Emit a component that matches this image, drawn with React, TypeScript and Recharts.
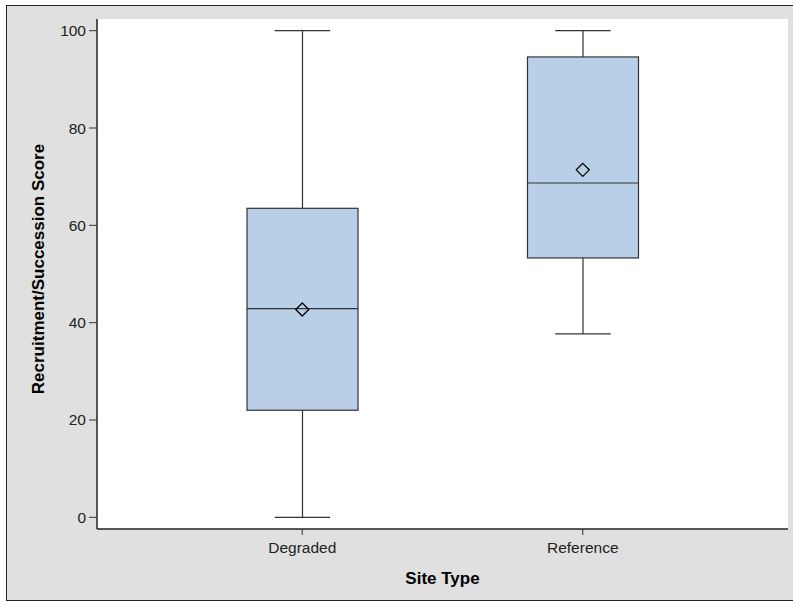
import React from "react";
import {
  ComposedChart,
  Bar,
  Scatter,
  XAxis,
  YAxis,
  CartesianGrid,
  Label,
} from "recharts";

const sites = ["Degraded", "Reference"];
const minVals = [0, 37.7];
const q1Vals = [22.0, 53.3];
const medians = [42.9, 68.7];
const q3Vals = [63.5, 94.6];
const maxVals = [100, 100];
const means = [42.7, 71.4];
const yTicks = [0, 20, 40, 60, 80, 100];

const data = sites.map((site, i) => ({
  site,
  base: minVals[i],
  lower: q1Vals[i] - minVals[i],
  box: q3Vals[i] - q1Vals[i],
  upper: maxVals[i] - q3Vals[i],
  median: medians[i],
  mean: means[i],
}));

const LINE = "#333333";
const FILL = "#b9cfe8";
const BOX_W = 111;

const LowerWhisker = (props: any) => {
  const { x, y, width, height } = props;
  const cx = x + width / 2;
  return (
    <g>
      <line x1={cx} x2={cx} y1={y} y2={y + height} stroke={LINE} strokeWidth={1.2} />
      <line x1={cx - width / 4} x2={cx + width / 4} y1={y + height} y2={y + height} stroke={LINE} strokeWidth={1.2} />
    </g>
  );
};

const UpperWhisker = (props: any) => {
  const { x, y, width, height } = props;
  const cx = x + width / 2;
  return (
    <g>
      <line x1={cx} x2={cx} y1={y} y2={y + height} stroke={LINE} strokeWidth={1.2} />
      <line x1={cx - width / 4} x2={cx + width / 4} y1={y} y2={y} stroke={LINE} strokeWidth={1.2} />
    </g>
  );
};

const BoxShape = (props: any) => {
  const { x, y, width, height } = props;
  return <rect x={x} y={y} width={width} height={height} fill={FILL} stroke={LINE} strokeWidth={1.2} />;
};

const MedianShape = (props: any) => {
  const { cx, cy } = props;
  return <line x1={cx - BOX_W / 2} x2={cx + BOX_W / 2} y1={cy} y2={cy} stroke={LINE} strokeWidth={1.2} />;
};

const MeanShape = (props: any) => {
  const { cx, cy } = props;
  const r = 6.5;
  return (
    <path
      d={`M${cx},${cy - r} L${cx + r},${cy} L${cx},${cy + r} L${cx - r},${cy} Z`}
      fill="none"
      stroke="#000"
      strokeWidth={1.3}
    />
  );
};

const YLabel = (props: any) => {
  const { viewBox } = props;
  const cy = viewBox.y + viewBox.height / 2 - 5;
  return (
    <text
      x={44}
      y={cy}
      transform={`rotate(-90 44 ${cy})`}
      textAnchor="middle"
      fontSize={17}
      fontWeight="bold"
      fill="#000"
      fontFamily="Liberation Sans, Arial, sans-serif"
    >
      Recruitment/Succession Score
    </text>
  );
};

export default function App() {
  return (
    <div style={{ position: "absolute", left: 0, top: 0, width: 793, height: 605, overflow: "hidden" }}>
      <div
        style={{
          position: "absolute",
          left: 6,
          top: 5,
          width: 787,
          height: 596,
          background: "#e0e0e0",
          borderLeft: "1px solid #222",
          borderTop: "1px solid #222",
          borderBottom: "1px solid #222",
          boxSizing: "border-box",
        }}
      />
      <div style={{ position: "absolute", left: 0, top: 0 }}>
        <ComposedChart
          width={793}
          height={605}
          data={data}
          margin={{ top: 19, right: 5, bottom: 16, left: 0 }}
          style={{ fontFamily: "Liberation Sans, Arial, sans-serif" }}
        >
          <CartesianGrid fill="#ffffff" horizontal={false} vertical={false} />
          <XAxis
            dataKey="site"
            type="category"
            padding={{ left: 65, right: 65 }}
            height={60}
            tickSize={6}
            tickMargin={7}
            stroke={LINE}
            axisLine={{ stroke: "#222", strokeWidth: 1.5 }}
            tick={{ fill: "#222", fontSize: 15.5 }}
          >
            <Label
              value="Site Type"
              position="insideBottom"
              offset={5}
              style={{ fontSize: 17, fontWeight: "bold", fill: "#000" }}
            />
          </XAxis>
          <XAxis
            xAxisId="top"
            dataKey="site"
            orientation="top"
            height={0}
            tick={false}
            tickLine={false}
            axisLine={{ stroke: "#222", strokeWidth: 1.5 }}
          />
          <YAxis
            type="number"
            domain={[-2.4, 102.4]}
            ticks={yTicks}
            width={97}
            tickSize={8}
            tickMargin={3}
            stroke={LINE}
            axisLine={{ stroke: "#222", strokeWidth: 1.5 }}
            tick={{ fill: "#222", fontSize: 15.5 }}
            allowDataOverflow
          >
            <Label content={<YLabel />} />
          </YAxis>
          <YAxis
            yAxisId="right"
            orientation="right"
            type="number"
            domain={[0, 1]}
            width={0}
            tick={false}
            tickLine={false}
            axisLine={{ stroke: "#222", strokeWidth: 1.5 }}
          />
          <Bar dataKey="base" stackId="bp" barSize={BOX_W} fill="transparent" isAnimationActive={false} />
          <Bar dataKey="lower" stackId="bp" barSize={BOX_W} shape={<LowerWhisker />} isAnimationActive={false} />
          <Bar dataKey="box" stackId="bp" barSize={BOX_W} shape={<BoxShape />} isAnimationActive={false} />
          <Bar dataKey="upper" stackId="bp" barSize={BOX_W} shape={<UpperWhisker />} isAnimationActive={false} />
          <Scatter dataKey="median" shape={<MedianShape />} isAnimationActive={false} />
          <Scatter dataKey="mean" shape={<MeanShape />} isAnimationActive={false} />
        </ComposedChart>
      </div>
    </div>
  );
}
